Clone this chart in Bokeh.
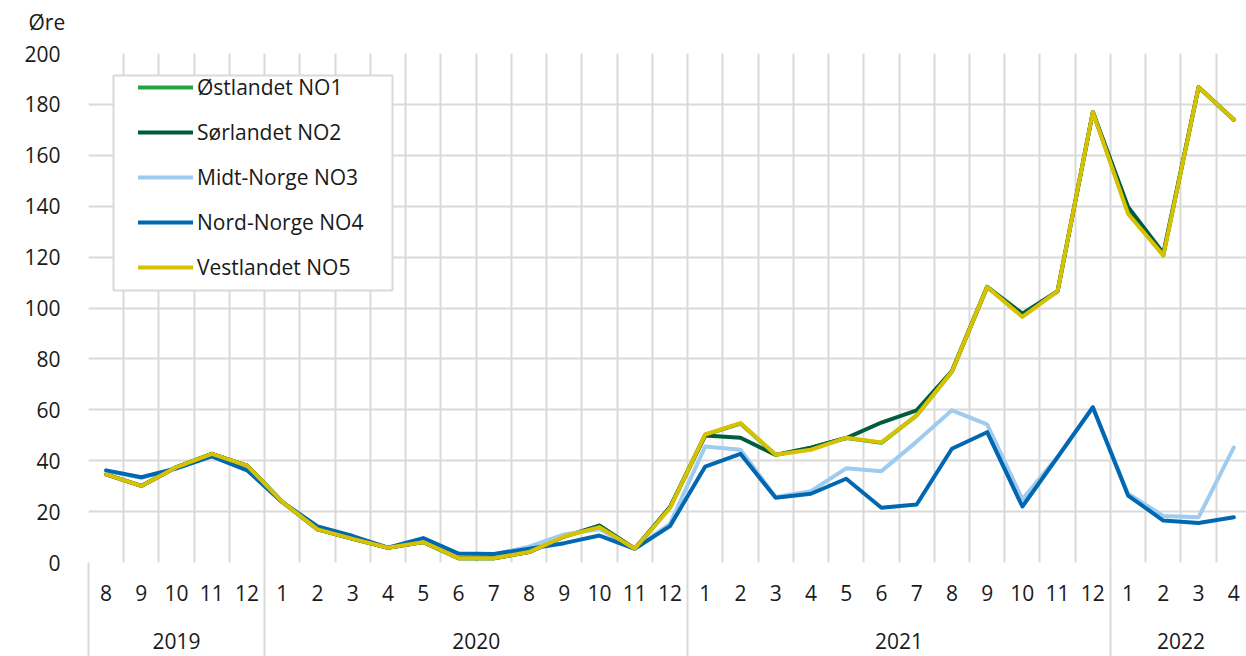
import numpy as np
from bokeh.plotting import figure
from bokeh.models import (Range1d, LinearAxis, FixedTicker, Grid, Legend, LegendItem,
                          BoxAnnotation, Title)
from bokeh.embed import file_html
from bokeh.resources import INLINE

# ---------------- data ----------------
years = ["2019", "2020", "2021", "2022"]
months_per_year = [
    [8, 9, 10, 11, 12],
    [1, 2, 3, 4, 5, 6, 7, 8, 9, 10, 11, 12],
    [1, 2, 3, 4, 5, 6, 7, 8, 9, 10, 11, 12],
    [1, 2, 3, 4],
]

series_names = ["Østlandet NO1", "Sørlandet NO2", "Midt-Norge NO3", "Nord-Norge NO4", "Vestlandet NO5"]

no1 = [34.6, 30.1, 37.5, 42.7, 38.1,
       23.8, 13.0, 9.3, 5.8, 8.0, 1.7, 1.7, 4.1, 10.2, 14.5, 5.4, 21.6,
       50.2, 54.6, 42.3, 45.1, 48.9, 47.0, 57.8, 75.0, 108.3, 96.8, 106.6, 177.0,
       137.5, 120.7, 186.8, 174.0]
no2 = [34.6, 30.1, 37.5, 42.7, 38.1,
       23.8, 13.0, 9.3, 5.8, 8.0, 1.7, 1.7, 4.1, 10.2, 14.5, 5.4, 21.8,
       49.9, 49.0, 42.3, 45.1, 48.9, 55.0, 59.8, 75.2, 108.3, 97.8, 106.6, 177.0,
       139.7, 121.5, 186.8, 174.0]
no3 = [36.0, 33.3, 37.2, 41.8, 36.4,
       23.7, 14.0, 10.2, 5.8, 9.4, 3.3, 3.2, 6.2, 11.0, 13.2, 5.4, 15.2,
       45.6, 44.3, 25.7, 28.0, 37.0, 35.9, 47.5, 59.8, 54.3, 24.8, 41.5, 61.0,
       27.0, 18.3, 17.8, 45.2]
no4 = [36.2, 33.5, 37.0, 41.7, 36.2,
       23.7, 14.2, 10.4, 5.8, 9.6, 3.5, 3.3, 5.4, 7.6, 10.6, 5.4, 14.3,
       37.7, 42.7, 25.4, 27.0, 32.9, 21.5, 22.8, 44.7, 51.2, 22.0, 41.4, 61.0,
       26.3, 16.5, 15.5, 17.8]
no5 = [34.6, 30.1, 37.5, 42.7, 38.1,
       23.8, 13.0, 9.3, 5.8, 8.0, 1.7, 1.7, 4.1, 10.2, 13.9, 5.4, 21.4,
       50.3, 54.8, 42.3, 44.3, 49.0, 47.2, 57.8, 75.0, 108.3, 96.5, 106.6, 177.0,
       137.0, 120.7, 186.8, 174.0]

y_ticks = [0, 20, 40, 60, 80, 100, 120, 140, 160, 180, 200]
y_unit = "Øre"

colors = ["#25a244", "#005c41", "#9fcbee", "#0067b0", "#d8c100"]

# ---------------- derived positions ----------------
month_labels = [str(m) for ms in months_per_year for m in ms]
n = len(month_labels)
x = np.arange(n) + 0.5
counts = [len(ms) for ms in months_per_year]
bounds = np.concatenate([[0], np.cumsum(counts)])
year_centers = [(bounds[i] + bounds[i + 1]) / 2 for i in range(len(years))]

FONT = "Open Sans"
FS = "21px"
TXT = "#1a1a1a"
GRID = "#d9d9d9"
SEP_OUT = 94

p = figure(width=1246, height=656, output_backend="svg", toolbar_location=None,
           x_range=Range1d(0, n - 0.14), y_range=Range1d(0, 200),
           x_axis_location=None, y_axis_location="left",
           min_border_left=88, min_border_right=0, min_border_top=53, min_border_bottom=94)
p.outline_line_color = None
p.background_fill_color = "white"
p.border_fill_color = "white"

# y axis
p.yaxis.ticker = FixedTicker(ticks=y_ticks)
p.yaxis.axis_line_color = None
p.yaxis.major_tick_line_color = None
p.yaxis.minor_tick_line_color = None
p.yaxis.major_label_standoff = 22
p.yaxis.major_label_text_font = FONT
p.yaxis.major_label_text_font_size = FS
p.yaxis.major_label_text_color = TXT

p.ygrid.grid_line_color = GRID
p.ygrid.grid_line_width = 2
p.ygrid.ticker = FixedTicker(ticks=y_ticks)

# vertical grid at category boundaries
vgrid = Grid(dimension=0, ticker=FixedTicker(ticks=list(range(n + 1))),
             grid_line_color=GRID, grid_line_width=2)
p.add_layout(vgrid)

# month axis (year separators drawn as long minor ticks)
month_axis = LinearAxis(
    ticker=FixedTicker(ticks=list(x), minor_ticks=[float(b) for b in bounds]),
    major_label_overrides={float(xx): lab for xx, lab in zip(x, month_labels)},
    axis_line_color=None, major_tick_line_color=None,
    minor_tick_line_color=GRID, minor_tick_line_width=2,
    minor_tick_in=0, minor_tick_out=SEP_OUT,
    major_tick_in=0, major_tick_out=0,
    major_label_standoff=22 - SEP_OUT,
    major_label_text_font=FONT, major_label_text_font_size=FS,
    major_label_text_color=TXT)
p.add_layout(month_axis, "below")

year_axis = LinearAxis(
    ticker=FixedTicker(ticks=year_centers, minor_ticks=[]),
    major_label_overrides={float(c): y for c, y in zip(year_centers, years)},
    axis_line_color=None, major_tick_line_color=None, minor_tick_line_color=None,
    major_tick_in=0, major_tick_out=0,
    major_label_standoff=29,
    major_label_text_font=FONT, major_label_text_font_size=FS,
    major_label_text_color=TXT)
p.add_layout(year_axis, "below")

# lines
renderers = []
for data, col in zip([no1, no2, no3, no4, no5], colors):
    r = p.line(x, data, line_color=col, line_width=4, line_join="round", line_cap="round")
    renderers.append(r)

# legend box
box = BoxAnnotation(left=25, right=304, top=487, bottom=272,
                    left_units="screen", right_units="screen",
                    top_units="screen", bottom_units="screen",
                    fill_color="white", fill_alpha=1.0,
                    line_color=GRID, line_width=2, line_alpha=1.0)
p.add_layout(box)

legend = Legend(items=[LegendItem(label=nm, renderers=[r]) for nm, r in zip(series_names, renderers)],
                location=(50, 281), padding=0, spacing=17,
                glyph_width=55, glyph_height=26, label_height=26, label_standoff=4,
                label_text_font=FONT, label_text_font_size=FS, label_text_color=TXT,
                border_line_color=None, background_fill_alpha=0.0, margin=0)
p.add_layout(legend)

# spacer panel between frame and unit title
spacer = Title(text=" ", align="left", standoff=0, text_font=FONT, text_font_size="10px",
               text_color="white")
p.add_layout(spacer, "above")

unit_title = Title(text=y_unit, align="left", offset=-60, vertical_align="top", standoff=0,
                   text_font=FONT, text_font_size=FS, text_font_style="normal",
                   text_color=TXT)
p.add_layout(unit_title, "above")

open("out.html", "w").write(file_html(p, INLINE))
